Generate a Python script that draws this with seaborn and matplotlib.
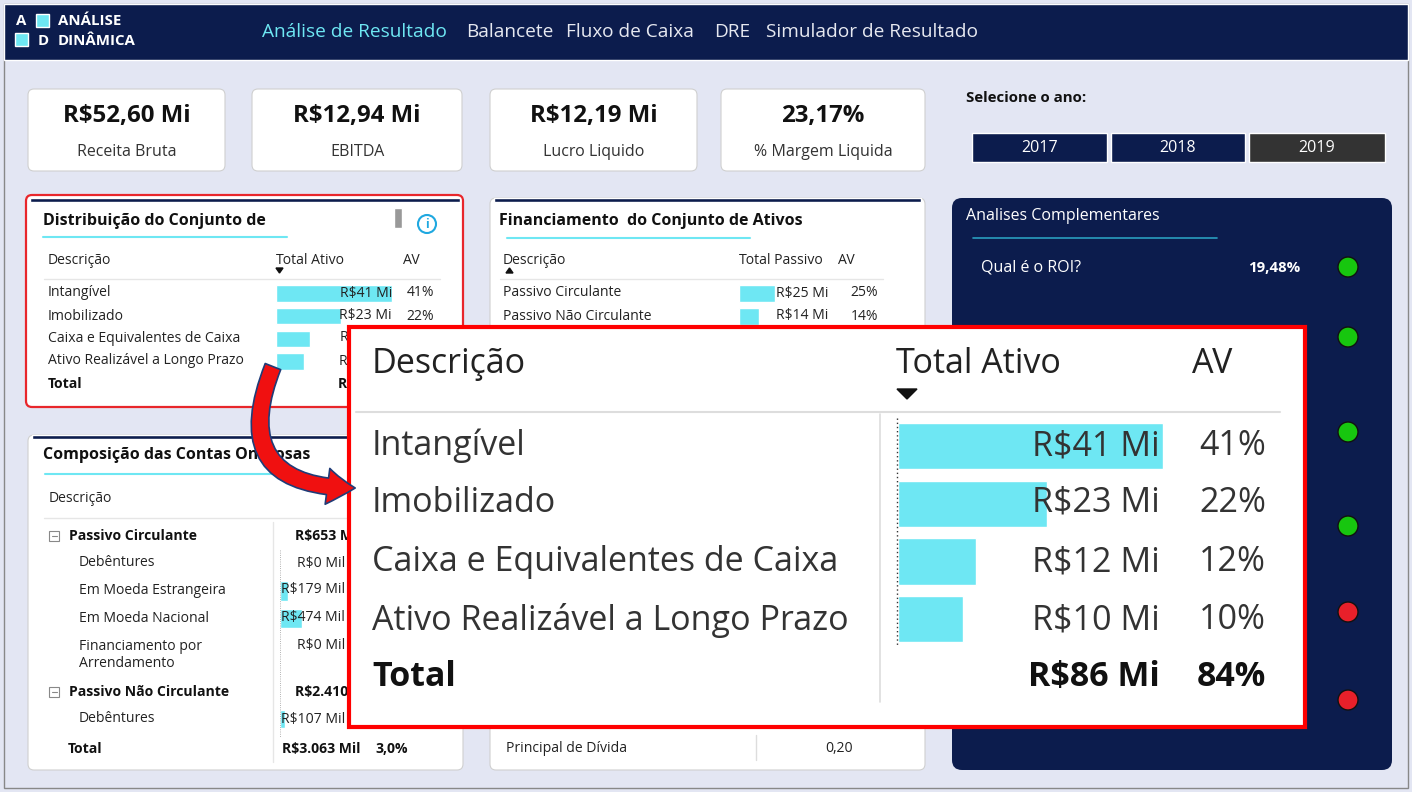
import matplotlib
matplotlib.use("Agg")
import matplotlib.pyplot as plt
import seaborn as sns
import pandas as pd
from matplotlib.patches import FancyBboxPatch, Rectangle, Circle, FancyArrowPatch

# ---- data ----
kpi_values = ["R$52,60 Mi", "R$12,94 Mi", "R$12,19 Mi", "23,17%"]
kpi_labels = ["Receita Bruta", "EBITDA", "Lucro Liquido", "% Margem Liquida"]
years = ["2017", "2018", "2019"]
nav_items = ["Análise de Resultado", "Balancete", "Fluxo de Caixa", "DRE", "Simulador de Resultado"]

ativo_desc = ["Intangível", "Imobilizado", "Caixa e Equivalentes de Caixa", "Ativo Realizável a Longo Prazo"]
ativo_val = [41, 23, 12, 10]
ativo_av = [41, 22, 12, 10]
ativo_total, ativo_total_av = 86, 84

passivo_desc = ["Passivo Circulante", "Passivo Não Circulante"]
passivo_val = [25, 14]
passivo_av = [25, 14]

oner_desc = ["Debêntures", "Em Moeda Estrangeira", "Em Moeda Nacional",
             "Financiamento por\nArrendamento", "Debêntures"]
oner_val = [0, 179, 474, 0, 107]
oner_groups = ["Passivo Circulante", "Passivo Não Circulante"]
oner_group_val = ["R$653 Mil", "R$2.410 Mil"]

roi_label, roi_value = "Qual é o ROI?", "19,48%"
signal_ok = [True, True, True, True, False, False]

# ---- styling ----
W, H = 1412, 792
NAVY = "#0C1C4D"
CYAN = "#6EE7F3"
BG = "#E3E6F3"
FONT = "Open Sans"
plt.rcParams["font.family"] = FONT
sns.set_theme(style="white", rc={"font.family": FONT})

fig = plt.figure(figsize=(W / 100, H / 100), dpi=100)
fig.patch.set_facecolor(BG)


def layer(z):
    a = fig.add_axes([0, 0, 1, 1], zorder=z)
    a.set_xlim(0, W); a.set_ylim(H, 0); a.axis("off")
    a.patch.set_alpha(0)
    return a


ax = layer(0)     # card backgrounds
tx = layer(5)     # text of the dashboard
ov = layer(10)    # zoom box background
ot = layer(12)    # zoom box text + arrow


def px(s):
    return s * 0.72


def box(a, x0, y0, x1, y1, fc="white", ec="none", lw=0, r=6, z=1):
    a.add_patch(FancyBboxPatch((x0, y0), x1 - x0, y1 - y0,
                               boxstyle=f"round,pad=0,rounding_size={r}",
                               fc=fc, ec=ec, lw=lw, zorder=z))


def txt(a, x, y, s, size=13, color="#222", weight="normal", ha="left", z=5):
    a.text(x, y, s, fontsize=px(size), color=color, fontweight=weight,
           ha=ha, va="center", zorder=z)


def inset(x0, y0, x1, y1, z=3):
    a = fig.add_axes([x0 / W, 1 - y1 / H, (x1 - x0) / W, (y1 - y0) / H], zorder=z)
    a.patch.set_alpha(0)
    return a


def bars(x0, y0, row_h, vals, scale, width, z=3):
    n = len(vals)
    a = inset(x0, y0, x0 + max(vals) * scale + 1, y0 + row_h * n, z)
    df = pd.DataFrame({"v": vals, "c": [str(i) for i in range(n)]})
    sns.barplot(data=df, x="v", y="c", orient="h", color=CYAN, saturation=1,
                width=width, ax=a)
    a.set_xlim(0, max(vals) + 1 / scale)
    a.set_ylim(n - 0.5, -0.5)
    a.axis("off")
    return a


# outer frame
ax.add_patch(Rectangle((4, 4), W - 8, H - 8, fc=BG, ec="#888", lw=1, zorder=0))
# header
ax.add_patch(Rectangle((4, 4), W - 8, 56, fc=NAVY, zorder=1))
ax.add_patch(Rectangle((36, 14), 13, 13, fc=CYAN, zorder=2))
ax.add_patch(Rectangle((15, 33), 13, 13, fc=CYAN, zorder=2))
txt(tx, 21, 21, "A", 15, "white", "bold", "center")
txt(tx, 43, 41, "D", 15, "white", "bold", "center")
txt(tx, 58, 21, "ANÁLISE", 15, "white", "bold")
txt(tx, 58, 41, "DINÂMICA", 15, "white", "bold")
nav_x = [262, 466, 566, 714, 766]
for i, (s, x) in enumerate(zip(nav_items, nav_x)):
    txt(tx, x, 32, s, 19, CYAN if i == 0 else "#E6E8F0")

# KPI cards
kpi_box = [(28, 225), (252, 462), (490, 697), (721, 925)]
for (x0, x1), v, l in zip(kpi_box, kpi_values, kpi_labels):
    box(ax, x0, 89, x1, 171, ec="#d0d0d0", lw=0.8)
    cx = (x0 + x1) / 2
    txt(tx, cx, 116, v, 24, "#111", "bold", "center")
    txt(tx, cx, 152, l, 16, "#333", ha="center")

# year selector
txt(tx, 966, 98, "Selecione o ano:", 15, "#111", "bold")
for (x0, x1), y, c in zip([(972, 1107), (1111, 1245), (1249, 1385)], years, [NAVY, NAVY, "#333333"]):
    ax.add_patch(Rectangle((x0, 133), x1 - x0, 29, fc=c, zorder=2))
    txt(tx, (x0 + x1) / 2, 148, y, 16, "white", ha="center")

# card 1: Distribuição
box(ax, 26, 195, 463, 407, ec="#E8262B", lw=1.6)
ax.add_patch(Rectangle((30, 198), 430, 4, fc=NAVY, zorder=2))
txt(tx, 43, 221, "Distribuição do Conjunto de", 16, "#111", "bold")
tx.plot([43, 287], [237, 237], color=CYAN, lw=1.5, zorder=3)
tx.add_patch(Rectangle((394, 208), 8, 20, fc="#999", zorder=3))
tx.add_patch(Circle((427, 224), 9, fc="white", ec="#1FA8E0", lw=1.5, zorder=3))
txt(tx, 427, 224, "i", 12, "#1FA8E0", "bold", "center")
txt(tx, 48, 260, "Descrição", 14)
txt(tx, 276, 260, "Total Ativo", 14)
txt(tx, 403, 260, "AV", 14)
tx.fill([276, 283, 279.5], [268, 268, 273], color="#111", zorder=3)
tx.plot([44, 440], [279, 279], color="#e6e6e6", lw=1, zorder=2)
bars(276, 282, 22.7, ativo_val, 116 / 41, 0.72)
for y, d, v, a in zip([293, 316, 338, 361], ativo_desc, ativo_val, ativo_av):
    txt(tx, 48, y, d, 14)
    txt(tx, 392, y, f"R${v} Mi", 14, ha="right")
    txt(tx, 434, y, f"{a}%", 14, ha="right")
txt(tx, 48, 384, "Total", 14, "#111", "bold")
txt(tx, 392, 384, f"R${ativo_total} Mi", 14, "#111", "bold", "right")

# card 2: Financiamento
box(ax, 490, 198, 925, 770, ec="#d0d0d0", lw=0.8)
ax.add_patch(Rectangle((494, 198), 427, 4, fc=NAVY, zorder=2))
txt(tx, 499, 221, "Financiamento  do Conjunto de Ativos", 16, "#111", "bold")
tx.plot([507, 750], [238, 238], color=CYAN, lw=1.5, zorder=3)
txt(tx, 503, 260, "Descrição", 14)
tx.fill([506, 513, 509.5], [273, 273, 268], color="#111", zorder=3)
txt(tx, 739, 260, "Total Passivo", 14)
txt(tx, 838, 260, "AV", 14)
tx.plot([500, 883], [279, 279], color="#e6e6e6", lw=1, zorder=2)
bars(739, 282, 23, passivo_val, 36 / 25, 0.72)
for y, d, v, a in zip([293, 316], passivo_desc, passivo_val, passivo_av):
    txt(tx, 503, y, d, 14)
    txt(tx, 828, y, f"R${v} Mi", 14, ha="right")
    txt(tx, 878, y, f"{a}%", 14, ha="right")
txt(tx, 506, 749, "Principal de Dívida", 14)
txt(tx, 853, 749, "0,20", 14, ha="right")
tx.plot([756, 756], [735, 760], color="#ddd", lw=1, zorder=2)

# card 3: Composição
box(ax, 28, 435, 463, 770, ec="#d0d0d0", lw=0.8)
ax.add_patch(Rectangle((32, 435), 427, 4, fc=NAVY, zorder=2))
txt(tx, 43, 455, "Composição das Contas Onerosas", 16, "#111", "bold")
tx.plot([45, 287], [474, 474], color=CYAN, lw=1.5, zorder=3)
txt(tx, 49, 498, "Descrição", 14)
tx.plot([44, 440], [518, 518], color="#e6e6e6", lw=1, zorder=2)
tx.plot([273, 273], [522, 762], color="#e6e6e6", lw=1, zorder=2)
for y, g, gv in zip([536, 692], oner_groups, oner_group_val):
    tx.add_patch(Rectangle((49, y - 5), 10, 10, fc="white", ec="#888", lw=0.8, zorder=3))
    tx.plot([51.5, 56.5], [y, y], color="#888", lw=0.8, zorder=4)
    txt(tx, 69, y, g, 14, "#111", "bold")
    txt(tx, 295, y, gv, 14, "#111", "bold")
oner_scale = 22 / 474
bars(280, 549.5, 27.7, oner_val[:4], oner_scale, 0.7)
a5 = inset(280, 710, 280 + 474 * oner_scale, 728)
sns.barplot(x=oner_val[4:], y=["x"], orient="h", color=CYAN, saturation=1, width=0.95, ax=a5)
a5.set_xlim(0, 474); a5.axis("off")
tx.plot([280, 280], [550, 737], color="#999", lw=0.6, ls=":", zorder=2)
for y, d, v in zip([563, 590, 618, 646, 719], oner_desc, oner_val):
    yy = y + 9 if "\n" in d else y
    txt(tx, 79, yy, d, 14)
    txt(tx, 345, y, f"R${v} Mil", 14, ha="right")
txt(tx, 68, 749, "Total", 14, "#111", "bold")
txt(tx, 282, 749, "R$3.063 Mil", 14, "#111", "bold")
txt(tx, 375, 749, "3,0%", 14, "#111", "bold")

# right panel
box(ax, 952, 198, 1392, 770, fc=NAVY, r=10)
txt(tx, 966, 216, "Analises Complementares", 16, "white")
tx.plot([973, 1217], [238, 238], color="#2A9DBF", lw=1.2, zorder=3)
txt(tx, 981, 268, roi_label, 16, "white")
txt(tx, 1300, 268, roi_value, 15, "white", "bold", "right")
for y, ok in zip([267, 337, 432, 526, 612, 700], signal_ok):
    tx.add_patch(Circle((1348, y), 10, fc="#17C60F" if ok else "#E8202A",
                        ec="#111", lw=1, zorder=3))

# zoom overlay
ov.add_patch(Rectangle((349, 327), 956, 400, fc="white", ec="#FF0000", lw=3, zorder=1))
BIG = 34
txt(ot, 372, 364, "Descrição", BIG)
txt(ot, 896, 364, "Total Ativo", BIG)
txt(ot, 1192, 364, "AV", BIG)
ot.fill([897, 917, 907], [389, 389, 399], color="#111", zorder=3)
ot.plot([356, 1280], [412, 412], color="#ddd", lw=1.5, zorder=2)
ot.plot([880, 880], [414, 702], color="#ddd", lw=1.2, zorder=2)
ot.plot([897, 897], [418, 647], color="#333", lw=1, ls=(0, (1, 2)), zorder=4)
bars(898, 417, 57.8, ativo_val, 265 / 41, 0.8, z=11)
for y, d, v, a in zip([446, 503, 562, 620], ativo_desc, ativo_val, ativo_av):
    txt(ot, 372, y, d, BIG, "#333")
    txt(ot, 1160, y, f"R${v} Mi", BIG, "#333", ha="right")
    txt(ot, 1266, y, f"{a}%", BIG, "#333", ha="right")
txt(ot, 372, 677, "Total", BIG, "#111", "bold")
txt(ot, 1160, 677, f"R${ativo_total} Mi", BIG, "#111", "bold", "right")
txt(ot, 1266, 677, f"{ativo_total_av}%", BIG, "#111", "bold", "right")

# curved arrow
ot.add_patch(FancyArrowPatch((274, 364), (358, 488), connectionstyle="arc3,rad=0.75",
                             arrowstyle="simple,head_width=26,head_length=20,tail_width=12",
                             fc="#F01010", ec="#1F3C78", lw=1.2, zorder=5))

fig.savefig("out.png", dpi=100, facecolor=fig.get_facecolor())
